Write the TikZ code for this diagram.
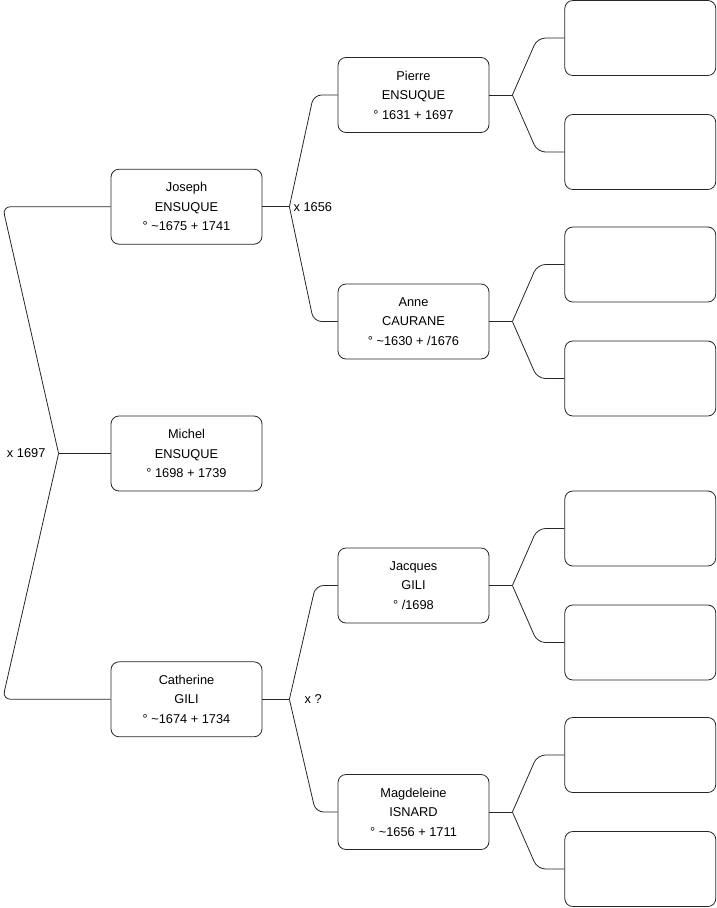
\documentclass[tikz,border=0pt]{standalone}
\usepackage{fontspec}
\setmainfont{Liberation Sans}
\usetikzlibrary{positioning}

\begin{document}
\begin{tikzpicture}[
 x=1pt, y=-1pt,
 person/.style={draw=black!85, rounded corners=8pt, line width=0.8pt, align=center,
 minimum width=151pt, minimum height=75pt, inner sep=0pt,
 font=\fontsize{12.8}{19.5}\selectfont},
 unknown/.style={person},
 link/.style={black!85, line width=0.8pt},
 elbow/.style={link, rounded corners=8pt},
 mar/.style={font=\fontsize{12.8}{14}\selectfont, inner sep=0pt},
]
 \useasboundingbox (0,0) rectangle (716,908);

 % generation 1 and 2
 \node[person] (michel) at (186.5,453.5) {Michel\\ ENSUQUE\\ ° 1698 + 1739};
 \node[person, above=171pt of michel] (joseph) {Joseph\\ ENSUQUE\\ ° \textasciitilde1675 + 1741};
 \node[person, below=170pt of michel] (catherine) {Catherine\\ GILI\\ ° \textasciitilde1674 + 1734};

 % generation 3
 \node[person] (pierre) at (413.5,95) {Pierre\\ ENSUQUE\\ ° 1631 + 1697};
 \node[person] (anne) at (413.5,321.5) {Anne\\ CAURANE\\ ° \textasciitilde1630 + /1676};
 \node[person] (jacques) at (413.5,585.5) {Jacques\\ GILI\\ ° /1698};
 \node[person] (magdeleine) at (413.5,812) {Magdeleine\\ ISNARD\\ ° \textasciitilde1656 + 1711};

 % parents of michel
 \draw[link] (michel.west) -- ++(-52,0) coordinate (mx);
 \draw[elbow] (mx) -- ([xshift=-108pt]joseph.west) -- (joseph.west);
 \draw[elbow] (mx) -- ([xshift=-108pt]catherine.west) -- (catherine.west);
 \node[mar, anchor=east] at ([xshift=-13pt]mx) {x 1697};

 % parents of joseph
 \draw[link] (joseph.east) -- ++(27,0) coordinate (jx);
 \draw[elbow] (jx) -- ([xshift=-24pt]pierre.west) -- (pierre.west);
 \draw[elbow] (jx) -- ([xshift=-24pt]anne.west) -- (anne.west);
 \node[mar, anchor=west] at ([xshift=4pt]jx) {x 1656};

 % parents of catherine
 \draw[link] (catherine.east) -- ++(27,0) coordinate (cx);
 \draw[elbow] (cx) -- ([xshift=-22pt]jacques.west) -- (jacques.west);
 \draw[elbow] (cx) -- ([xshift=-22pt]magdeleine.west) -- (magdeleine.west);
 \node[mar, anchor=west] at ([xshift=15pt]cx) {x ?};

 % generation 4, still empty
 \foreach \p in {pierre,anne,jacques,magdeleine} {
 \node[unknown, right=75pt of \p, yshift=57pt] (\p-a) {};
 \node[unknown, right=75pt of \p, yshift=-57pt] (\p-b) {};
 \draw[link] (\p.east) -- ++(23,0) coordinate (\p-x);
 \draw[elbow] (\p-x) -- ([xshift=-27pt]\p-a.west) -- (\p-a.west);
 \draw[elbow] (\p-x) -- ([xshift=-27pt]\p-b.west) -- (\p-b.west);
 }
\end{tikzpicture}
\end{document}
